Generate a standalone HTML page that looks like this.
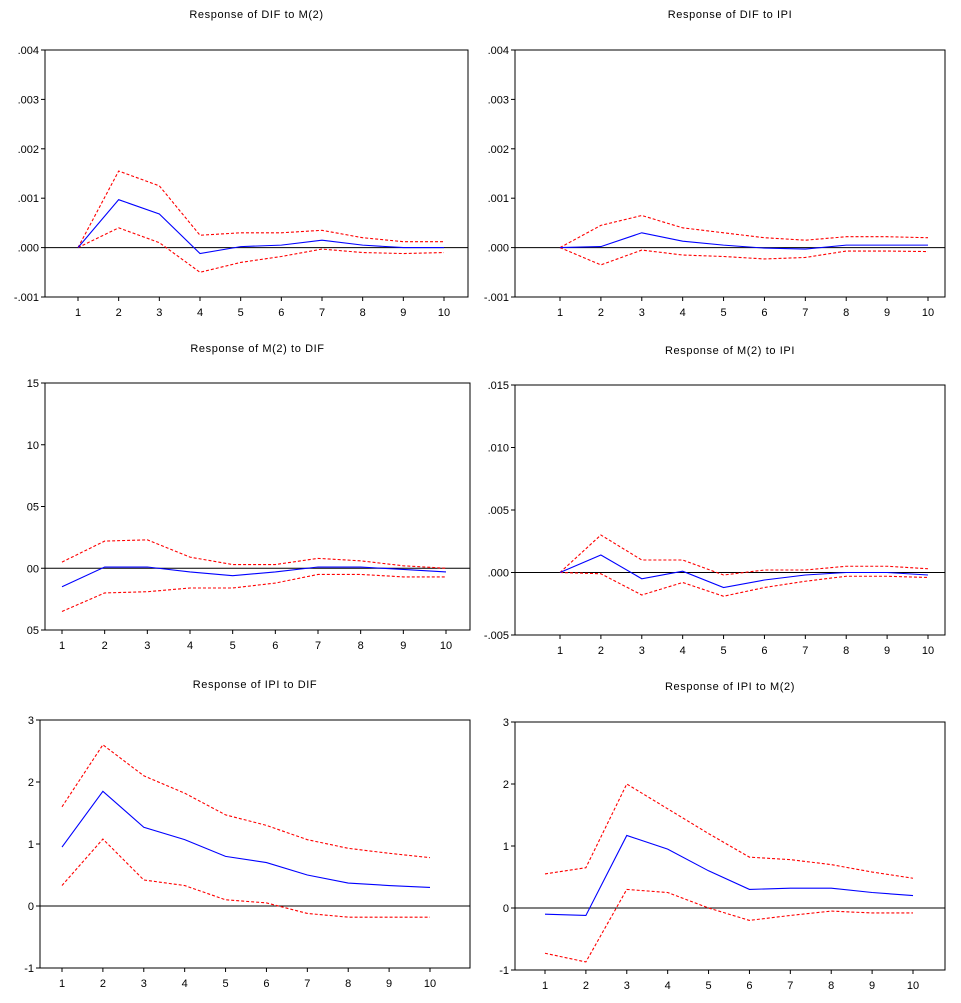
<!DOCTYPE html>
<html><head><meta charset="utf-8"><style>
body{margin:0;background:#fff;}
svg text{font-family:"Liberation Sans",sans-serif;font-size:11px;fill:#000;}
</style></head><body>
<svg id="c" width="961" height="998"></svg>
<script>
const xCats=[1,2,3,4,5,6,7,8,9,10];
const p1Mid=[0,.00097,.00068,-.00012,.00002,.00005,.00015,.00005,0,0];
const p1Up=[0,.00155,.00125,.00025,.0003,.0003,.00035,.0002,.00012,.00012];
const p1Lo=[0,.0004,.0001,-.0005,-.0003,-.00018,-.00003,-.0001,-.00012,-.0001];
const p2Mid=[0,.00002,.0003,.00013,.00005,-.00001,-.00003,.00005,.00005,.00005];
const p2Up=[0,.00045,.00065,.0004,.0003,.0002,.00015,.00022,.00022,.0002];
const p2Lo=[0,-.00035,-.00005,-.00015,-.00018,-.00023,-.0002,-.00007,-.00007,-.00008];
const p3Mid=[-.015,.001,.001,-.003,-.006,-.003,.001,.001,-.001,-.003];
const p3Up=[.005,.022,.023,.009,.003,.003,.008,.006,.002,0];
const p3Lo=[-.035,-.02,-.019,-.016,-.016,-.012,-.005,-.005,-.007,-.007];
const p4Mid=[0,.0014,-.0005,.0001,-.0012,-.0006,-.0002,0,0,-.0002];
const p4Up=[0,.003,.001,.001,-.0002,.0002,.0002,.0005,.0005,.0003];
const p4Lo=[0,-.0001,-.0018,-.0008,-.0019,-.0012,-.0007,-.0003,-.0003,-.0004];
const p5Mid=[.95,1.85,1.27,1.07,.8,.7,.5,.37,.33,.3];
const p5Up=[1.6,2.6,2.1,1.82,1.47,1.3,1.07,.93,.85,.78];
const p5Lo=[.33,1.08,.42,.33,.1,.05,-.12,-.18,-.18,-.18];
const p6Mid=[-.1,-.12,1.17,.95,.6,.3,.32,.32,.25,.2];
const p6Up=[.55,.65,2.0,1.6,1.2,.82,.78,.7,.58,.48];
const p6Lo=[-.73,-.87,.3,.25,0,-.2,-.12,-.05,-.08,-.08];
const tick1=[".004",".003",".002",".001",".000","-.001"];
const tick3=["15","10","05","00","05"];
const tick4=[".015",".010",".005",".000","-.005"];
const tick5=["3","2","1","0","-1"];
const panels=[
 {t:"Response of DIF to M(2)",L:45,R:468,T:50,B:297,x1:78,x10:444,ymax:.004,ymin:-.001,ticks:tick1,ty:18,m:p1Mid,u:p1Up,l:p1Lo},
 {t:"Response of DIF to IPI",L:515,R:945,T:50,B:297,x1:560,x10:928,ymax:.004,ymin:-.001,ticks:tick1,ty:18,m:p2Mid,u:p2Up,l:p2Lo},
 {t:"Response of M(2) to DIF",L:45,R:470,T:383,B:630,x1:62,x10:446,ymax:.15,ymin:-.05,ticks:tick3,ty:352,m:p3Mid,u:p3Up,l:p3Lo},
 {t:"Response of M(2) to IPI",L:515,R:945,T:385,B:635,x1:560,x10:928,ymax:.015,ymin:-.005,ticks:tick4,ty:354,m:p4Mid,u:p4Up,l:p4Lo},
 {t:"Response of IPI to DIF",L:40,R:470,T:720,B:968,x1:62,x10:430,ymax:3,ymin:-1,ticks:tick5,ty:688,m:p5Mid,u:p5Up,l:p5Lo},
 {t:"Response of IPI to M(2)",L:515,R:945,T:722,B:970,x1:545,x10:913,ymax:3,ymin:-1,ticks:tick5,ty:690,m:p6Mid,u:p6Up,l:p6Lo}
];
const svg=document.getElementById('c');const NS="http://www.w3.org/2000/svg";
function mk(tag,at,par){const e=document.createElementNS(NS,tag);for(const k in at)e.setAttribute(k,at[k]);(par||svg).appendChild(e);return e;}
panels.forEach((p,i)=>{
 const g=mk('g',{});
 
 
 const xs=c=>p.x1+(c-1)*(p.x10-p.x1)/9;
 const ys=v=>p.B-(v-p.ymin)/(p.ymax-p.ymin)*(p.B-p.T);
 const t=mk('text',{x:(p.L+p.R)/2,y:p.ty,'text-anchor':'middle','letter-spacing':'0.6'},g);t.textContent=p.t;
 
 
 const box=mk('rect',{x:p.L,y:p.T,width:p.R-p.L,height:p.B-p.T,fill:'none',stroke:'#000','stroke-width':1},g);
 
 
 const n=p.ticks.length;
 p.ticks.forEach((lab,k)=>{
  const y=p.T+k*(p.B-p.T)/(n-1);
  mk('line',{x1:p.L-4,x2:p.L,y1:y,y2:y,stroke:'#000'},g);
  const tt=mk('text',{x:p.L-6,y:y+4,'text-anchor':'end'},g);tt.textContent=lab;
  
  
 });
 xCats.forEach(c=>{
  const x=xs(c);
  mk('line',{x1:x,x2:x,y1:p.B,y2:p.B+4,stroke:'#000'},g);
  const tt=mk('text',{x:x,y:p.B+19,'text-anchor':'middle'},g);tt.textContent=c;
  
  
 });
 const z=mk('line',{x1:p.L,x2:p.R,y1:ys(0),y2:ys(0),stroke:'#000'},g);
 
 
 const pts=a=>a.map((v,k)=>xs(xCats[k])+','+ys(v)).join(' ');
 [['u','upper-band','red','3,2'],['l','lower-band','red','3,2'],['m','response-line','blue','']].forEach(s=>{
  const pl=mk('polyline',{points:pts(p[s[0]]),fill:'none',stroke:s[2],'stroke-width':1.1},g);
  if(s[3])pl.setAttribute('stroke-dasharray',s[3]);
  
  
 });
});
</script>
</body></html>
